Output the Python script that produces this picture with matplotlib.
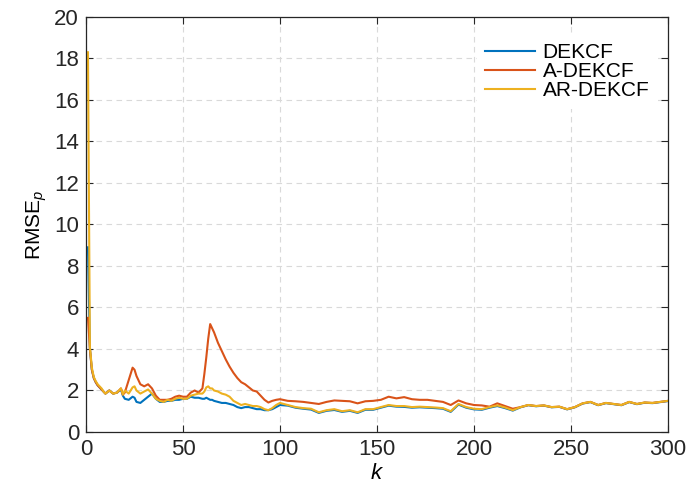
import numpy as np
import matplotlib
matplotlib.use('Agg')
import matplotlib.pyplot as plt

# ===== DATA =====
k = [1, 2, 3, 4, 5, 6, 7, 8, 9, 10, 12, 14, 16, 18, 19, 20, 22, 24, 25, 26,
     28, 30, 32, 34, 36, 38, 40, 42, 44, 46, 48, 50, 52, 54, 56, 58, 60, 61,
     62, 63, 64, 65, 66, 68, 70, 72, 74, 76, 78, 80, 82, 84, 86, 88, 90, 92,
     94, 96, 98, 100,
     104, 108, 112, 116, 120, 124, 128, 132, 136, 140, 144, 148, 152, 156,
     160, 164, 168, 172, 176, 180, 184, 188, 192, 196, 200, 204, 208, 212,
     216, 220, 224, 228, 232, 236, 240, 244, 248, 252, 256, 260, 264, 268,
     272, 276, 280, 284, 288, 292, 296, 300]

rmse_dekcf = [8.9, 4.0, 3.0, 2.6, 2.4, 2.25, 2.15, 2.05, 1.95, 1.85, 2.0, 1.85,
              1.9, 2.05, 1.75, 1.6, 1.55, 1.7, 1.65, 1.45, 1.4, 1.55, 1.7,
              1.85, 1.6, 1.45, 1.45, 1.5, 1.5, 1.55, 1.55, 1.6, 1.6, 1.7,
              1.65, 1.65, 1.6, 1.6, 1.65, 1.6, 1.55, 1.55, 1.5, 1.45, 1.4,
              1.4, 1.35, 1.3, 1.2, 1.15, 1.2, 1.2, 1.15, 1.1, 1.1, 1.05,
              1.05, 1.1, 1.2, 1.3,
              1.27, 1.17, 1.12, 1.08, 0.92, 1.02, 1.06, 0.97, 1.02, 0.92,
              1.07, 1.07, 1.17, 1.27, 1.22, 1.21, 1.17, 1.19, 1.17, 1.15,
              1.12, 0.97, 1.32, 1.17, 1.09, 1.07, 1.17, 1.25, 1.15, 1.03,
              1.19, 1.29, 1.24, 1.27, 1.19, 1.21, 1.09, 1.19, 1.37, 1.44,
              1.29, 1.39, 1.34, 1.29, 1.44, 1.34, 1.41, 1.39, 1.44, 1.49]

rmse_a_dekcf = [5.5, 4.0, 3.0, 2.6, 2.4, 2.25, 2.15, 2.05, 1.95, 1.85, 2.0, 1.85,
                1.9, 2.1, 1.8, 1.9, 2.5, 3.1, 3.0, 2.7, 2.3, 2.2, 2.3, 2.1,
                1.75, 1.55, 1.55, 1.55, 1.6, 1.7, 1.75, 1.7, 1.7, 1.9, 2.0,
                1.9, 2.1, 2.8, 3.6, 4.5, 5.2, 5.0, 4.8, 4.3, 3.9, 3.5, 3.15,
                2.85, 2.6, 2.4, 2.3, 2.15, 2.0, 1.95, 1.75, 1.55, 1.42, 1.5,
                1.55, 1.58,
                1.5, 1.48, 1.45, 1.4, 1.35, 1.45, 1.52, 1.5, 1.48, 1.38, 1.48,
                1.5, 1.55, 1.7, 1.62, 1.68, 1.58, 1.55, 1.55, 1.5, 1.45, 1.3,
                1.52, 1.38, 1.3, 1.28, 1.22, 1.38, 1.25, 1.12, 1.2, 1.3, 1.25,
                1.28, 1.2, 1.22, 1.1, 1.2, 1.38, 1.45, 1.3, 1.4, 1.35, 1.3,
                1.45, 1.35, 1.42, 1.4, 1.45, 1.5]

rmse_ar_dekcf = [18.3, 4.1, 3.1, 2.65, 2.45, 2.3, 2.2, 2.1, 1.95, 1.85, 2.0,
                 1.85, 1.9, 2.1, 1.8, 2.0, 1.85, 2.15, 2.2, 2.0, 1.85, 1.95,
                 2.05, 1.85, 1.6, 1.5, 1.45, 1.55, 1.5, 1.6, 1.65, 1.6, 1.6,
                 1.75, 1.8, 1.85, 1.85, 1.95, 2.15, 2.2, 2.1, 2.1, 2.0, 1.95,
                 1.85, 1.8, 1.7, 1.5, 1.4, 1.3, 1.35, 1.3, 1.25, 1.25, 1.2,
                 1.1, 1.05, 1.15, 1.3, 1.4,
                 1.3, 1.2, 1.15, 1.12, 0.95, 1.05, 1.1, 1.0, 1.05, 0.95, 1.1,
                 1.1, 1.2, 1.3, 1.25, 1.25, 1.2, 1.22, 1.2, 1.18, 1.15, 1.0,
                 1.35, 1.2, 1.12, 1.1, 1.2, 1.28, 1.18, 1.05, 1.2, 1.3, 1.25,
                 1.28, 1.2, 1.22, 1.1, 1.2, 1.38, 1.45, 1.3, 1.4, 1.35, 1.3,
                 1.45, 1.35, 1.42, 1.4, 1.45, 1.5]

labels = ['DEKCF', 'A-DEKCF', 'AR-DEKCF']
colors = ['#0072BD', '#D95319', '#EDB120']

plt.rcParams['font.family'] = ['Liberation Sans', 'DejaVu Sans']
plt.rcParams['mathtext.fontset'] = 'custom'
plt.rcParams['mathtext.it'] = 'Liberation Sans:italic'
plt.rcParams['mathtext.rm'] = 'Liberation Sans'

fig = plt.figure(figsize=(6.91, 4.95), dpi=100)
ax = fig.add_axes([0.1245, 0.1273, 0.8422, 0.8384])

for y, lab, c in zip([rmse_dekcf, rmse_a_dekcf, rmse_ar_dekcf], labels, colors):
    ax.plot(k, y, color=c, lw=1.5, label=lab)

ax.set_xlim(0, 300)
ax.set_ylim(0, 20)
ax.set_xticks(np.arange(0, 301, 50))
ax.set_yticks(np.arange(0, 21, 2))
ax.grid(True, ls=(0, (5, 4)), color='#d9d9d9', lw=0.8)
ax.set_axisbelow(True)

ax.tick_params(direction='in', top=True, right=True, labelsize=16,
               length=5, width=0.8, colors='#262626', pad=5)
for sp in ax.spines.values():
    sp.set_color('#262626')
    sp.set_linewidth(0.9)

ax.set_xlabel('$k$', fontsize=16, labelpad=2)
ax.set_ylabel('RMSE$_p$', fontsize=15, labelpad=4)

leg = ax.legend(loc='upper right', bbox_to_anchor=(1.0, 0.982), fontsize=15,
                frameon=True, handlelength=2.4, labelspacing=0.0,
                borderpad=0.4, handletextpad=0.35)
leg.get_frame().set_edgecolor('none')
leg.get_frame().set_facecolor('white')
leg.get_frame().set_alpha(1.0)

fig.savefig('out.png', dpi=100)
